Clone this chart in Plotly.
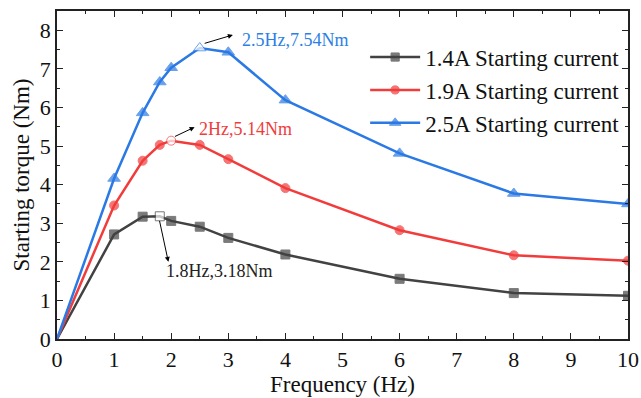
import plotly.graph_objects as go

freq = [0, 1, 1.5, 1.8, 2, 2.5, 3, 4, 6, 8, 10]
torque_14 = [0, 2.71, 3.17, 3.18, 3.06, 2.91, 2.62, 2.19, 1.56, 1.19, 1.12]
torque_19 = [0, 3.46, 4.62, 5.03, 5.14, 5.03, 4.66, 3.91, 2.82, 2.17, 2.03]
torque_25 = [0, 4.16, 5.86, 6.66, 7.03, 7.54, 7.43, 6.19, 4.81, 3.77, 3.50]
names = ["1.4A Starting current", "1.9A Starting current", "2.5A Starting current"]
colors = ["#424242", "#f23c3c", "#2a79e4"]
symbols = ["square", "circle", "triangle-up"]
peak_idx = [3, 4, 5]
peak_labels = ["1.8Hz,3.18Nm", "2Hz,5.14Nm", "2.5Hz,7.54Nm"]

FONT = "Liberation Serif"

fig = go.Figure()
for ys, nm, c, s, pk in zip([torque_14, torque_19, torque_25], names, colors, symbols, peak_idx):
    fills = [("white" if i == pk else c) for i in range(len(ys))]
    sizes = [9 if s != "triangle-up" else 11 for _ in ys]
    sizes[0] = 0
    fig.add_trace(go.Scatter(
        x=freq, y=ys, name=nm, mode="lines+markers",
        line=dict(color=c, width=2.5),
        marker=dict(symbol=s, size=sizes, color=fills, line=dict(color=c, width=1)),
    ))

ann = []
# blue
ann.append(dict(x=3.2, y=7.75, xref="x", yref="y", text=peak_labels[2], showarrow=False,
                xanchor="left", yanchor="middle", font=dict(family=FONT, size=18, color="#2d7fe6")))
ann.append(dict(x=3.08, y=7.88, ax=2.56, ay=7.65, xref="x", yref="y", axref="x", ayref="y",
                text="", showarrow=True, arrowhead=2, arrowsize=1, arrowwidth=1, arrowcolor="black"))
# red
ann.append(dict(x=2.45, y=5.45, xref="x", yref="y", text=peak_labels[1], showarrow=False,
                xanchor="left", yanchor="middle", font=dict(family=FONT, size=18, color="#f03c3c")))
ann.append(dict(x=2.41, y=5.49, ax=2.04, ay=5.23, xref="x", yref="y", axref="x", ayref="y",
                text="", showarrow=True, arrowhead=2, arrowsize=1, arrowwidth=1, arrowcolor="black"))
# black
ann.append(dict(x=1.87, y=1.77, xref="x", yref="y", text=peak_labels[0], showarrow=False,
                xanchor="left", yanchor="middle", font=dict(family=FONT, size=18, color="#222222")))
ann.append(dict(x=1.95, y=2.0, ax=1.79, ay=3.1, xref="x", yref="y", axref="x", ayref="y",
                text="", showarrow=True, arrowhead=2, arrowsize=1, arrowwidth=1, arrowcolor="black"))

axis_common = dict(
    showline=True, linecolor="#222222", linewidth=1.5, mirror="ticks",
    ticks="inside", ticklen=6, tickwidth=1.2, tickcolor="#222222",
    showgrid=False, zeroline=False, automargin=False,
    tickfont=dict(family=FONT, size=22, color="#111111"),
    minor=dict(ticks="inside", ticklen=3, tickwidth=1, tickcolor="#222222", dtick=0.5, showgrid=False),
)

fig.update_layout(
    width=641, height=398,
    margin=dict(l=57, r=13, t=11, b=59),
    paper_bgcolor="white", plot_bgcolor="white",
    font=dict(family=FONT, color="#111111"),
    annotations=ann,
    showlegend=True,
    legend=dict(x=0.995, y=0.925, xanchor="right", yanchor="top",
                font=dict(family=FONT, size=23, color="#111111"),
                bgcolor="rgba(0,0,0,0)", tracegroupgap=0, itemwidth=50),
    xaxis=dict(range=[0, 10], dtick=1, tick0=0,
               title=dict(text="Frequency (Hz)", font=dict(family=FONT, size=23), standoff=3),
               **axis_common),
    yaxis=dict(range=[0, 8.5], dtick=1, tick0=0,
               title=dict(text="Starting torque (Nm)", font=dict(family=FONT, size=23), standoff=4),
               **axis_common),
)

fig.write_html("out.html", config={"displayModeBar": False},
               post_script="document.body.style.margin='0px';document.body.style.overflow='hidden';")
